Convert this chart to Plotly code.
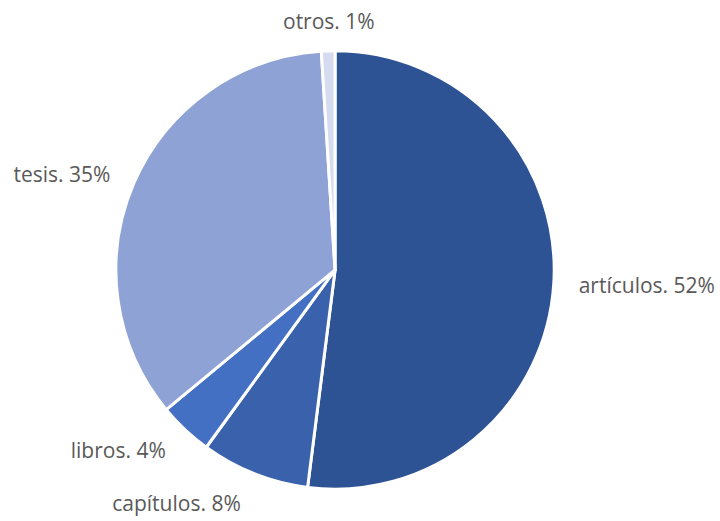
import plotly.graph_objects as go

# Distribution of publication types (percent)
categories = ["artículos", "capítulos", "libros", "tesis", "otros"]
shares = [52, 8, 4, 35, 1]
colors = ["#2E5395", "#3A62AC", "#4470C4", "#8FA2D5", "#D5DCF0"]

label_font = dict(family="Open Sans", size=21, color="#595959")

# Visible pie
pie = go.Pie(
    labels=categories,
    values=shares,
    sort=False,
    direction="clockwise",
    rotation=0,
    marker=dict(colors=colors, line=dict(color="white", width=3)),
    textinfo="none",
    showlegend=False,
    hoverinfo="label+percent",
    domain=dict(x=[0.1611, 0.7722], y=[0.0576, 0.9021]),
)

# Transparent, slightly larger pie that carries the outside labels,
# so they sit a little further from the visible slices.
# The tiny last slice gets its label centred above the pie instead.
templates = ["%{label}. %{value}%"] * (len(shares) - 1) + [""]
labels_pie = go.Pie(
    labels=categories,
    values=shares,
    sort=False,
    direction="clockwise",
    rotation=0,
    marker=dict(colors=["rgba(0,0,0,0)"] * len(shares), line=dict(width=0)),
    texttemplate=templates,
    textposition="outside",
    textfont=label_font,
    showlegend=False,
    hoverinfo="skip",
    domain=dict(x=[0.1361, 0.7972], y=[0.0230, 0.9367]),
)

fig = go.Figure([pie, labels_pie])

fig.add_annotation(
    text=f"{categories[-1]}. {shares[-1]}%",
    xref="paper", yref="paper",
    x=0.458, y=0.96,
    xanchor="center", yanchor="middle",
    showarrow=False,
    font=label_font,
)

fig.update_layout(
    width=720,
    height=521,
    margin=dict(l=0, r=0, t=0, b=0),
    paper_bgcolor="white",
    plot_bgcolor="white",
)

fig.write_html("out.html")
